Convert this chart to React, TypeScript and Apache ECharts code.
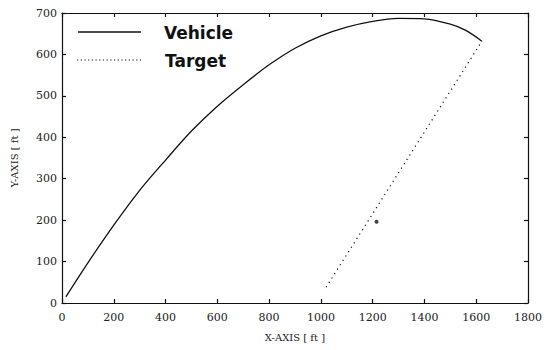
import React, { useEffect, useRef } from "react";
import * as echarts from "echarts";

const vehicleX = [15, 100, 200, 300, 400, 500, 600, 700, 800, 900, 1000, 1100, 1200, 1300, 1400, 1500, 1560, 1622];
const vehicleY = [15, 97, 188, 272, 345, 415, 475, 527, 575, 615, 645, 666, 680, 687, 686, 673, 658, 632];
const targetX = [1020, 1622];
const targetY = [38, 632];
const markerPoint = [1215, 196];

const legendNames = ["Vehicle", "Target"];
const xTicks = { min: 0, max: 1800, interval: 200 };
const yTicks = { min: 0, max: 700, interval: 100 };

const serif = "DejaVu Serif";

export default function App() {
  const ref = useRef<HTMLDivElement>(null);
  useEffect(() => {
    document.body.style.margin = "0";
    const chart = echarts.init(ref.current!, null, { renderer: "svg" });
    const axisLine = { show: true, onZero: false, lineStyle: { color: "#111", width: 1.2 } };
    const tick = { show: true, inside: true, length: 4, lineStyle: { color: "#111", width: 1.2 } };
    const legendText = {
      fontFamily: "DejaVu Sans",
      fontWeight: "bold",
      fontSize: 17,
      fill: "#111",
      verticalAlign: "middle",
    };
    chart.setOption({
      animation: false,
      backgroundColor: "#fff",
      grid: { left: 62, right: 21, top: 13, bottom: 47 },
      graphic: [
        { type: "line", shape: { x1: 78, y1: 32, x2: 141, y2: 32 }, style: { stroke: "#111", lineWidth: 1.5 } },
        { type: "text", x: 164, y: 33, style: { text: legendNames[0], ...legendText } },
        { type: "line", shape: { x1: 77, y1: 60, x2: 141, y2: 60 }, style: { stroke: "#111", lineWidth: 1.2, lineDash: [1.2, 2.5] } },
        { type: "text", x: 165, y: 61, style: { text: legendNames[1], ...legendText } },
      ],
      xAxis: [
        {
          type: "value",
          ...xTicks,
          name: "X-AXIS [ ft ]",
          nameLocation: "middle",
          nameGap: 29,
          nameTextStyle: { fontFamily: serif, fontSize: 10, color: "#222" },
          axisLine,
          axisTick: tick,
          splitLine: { show: false },
          axisLabel: { fontFamily: serif, fontSize: 11, color: "#222", margin: 9, formatter: (v: number) => String(v) },
        },
        {
          type: "value",
          position: "top",
          ...xTicks,
          axisLine,
          axisTick: tick,
          splitLine: { show: false },
          axisLabel: { show: false },
        },
      ],
      yAxis: [
        {
          type: "value",
          ...yTicks,
          name: "Y-AXIS [ ft ]",
          nameLocation: "middle",
          nameGap: 43,
          nameTextStyle: { fontFamily: serif, fontSize: 10, color: "#222" },
          axisLine,
          axisTick: tick,
          splitLine: { show: false },
          axisLabel: { fontFamily: serif, fontSize: 11, color: "#222", margin: 5, formatter: (v: number) => String(v) },
        },
        {
          type: "value",
          position: "right",
          ...yTicks,
          axisLine,
          axisTick: tick,
          splitLine: { show: false },
          axisLabel: { show: false },
        },
      ],
      series: [
        {
          name: legendNames[0],
          type: "line",
          smooth: 0.3,
          symbol: "none",
          data: vehicleX.map((x, i) => [x, vehicleY[i]]),
          lineStyle: { color: "#111", width: 1.3 },
        },
        {
          name: legendNames[1],
          type: "line",
          symbol: "none",
          data: targetX.map((x, i) => [x, targetY[i]]),
          lineStyle: { color: "#111", width: 1.2, type: [1.2, 4] },
        },
        {
          name: "marker",
          type: "scatter",
          symbolSize: 4,
          data: [markerPoint],
          itemStyle: { color: "#111" },
        },
      ],
    });
    return () => chart.dispose();
  }, []);
  return <div ref={ref} style={{ width: 549, height: 350 }} />;
}
